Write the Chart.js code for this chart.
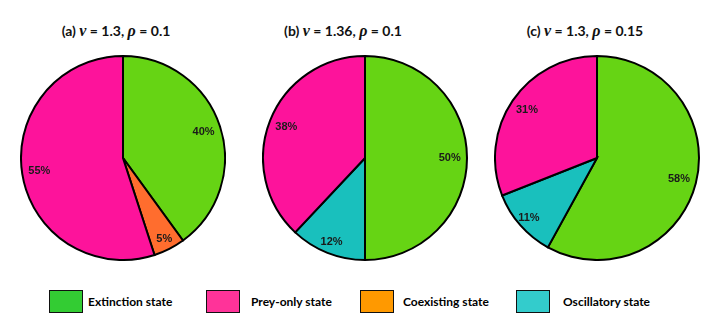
<!DOCTYPE html>
<html>
<head>
<meta charset="utf-8">
<script src="https://cdn.jsdelivr.net/npm/chart.js@4"></script>
<style>
  html, body { margin:0; padding:0; background:#fff; }
  #wrap { position:relative; width:716px; height:323px; overflow:hidden; background:#fff; }
  canvas.pie { position:absolute; }
  .ttl { position:absolute; top:20px; font-family:Lato, "Open Sans", sans-serif; font-weight:700; font-size:14px; color:#111; white-space:nowrap; transform:translateX(-50%); line-height:22px; }
  .ttl i { font-family:"Liberation Serif", "DejaVu Serif", serif; font-style:italic; font-weight:700; font-size:16px; }
  .leg { position:absolute; top:290px; height:23px; display:flex; align-items:center; }
  .leg .box { width:32px; height:21px; border:1.5px solid #111; box-sizing:content-box; }
  .leg .txt { font-family:Lato, "Open Sans", sans-serif; font-weight:700; font-size:12px; color:#000; white-space:nowrap; }
</style>
</head>
<body>
<div id="wrap"></div>
<script>
// ---- data ----
const categories = ['Extinction state', 'Coexisting state', 'Oscillatory state', 'Prey-only state'];
const panelLetters = ['(a)', '(b)', '(c)'];
const nuValues = ['1.3', '1.36', '1.3'];
const rhoValues = ['0.1', '0.1', '0.15'];
const valuesA = [40, 5, 0, 55];
const valuesB = [50, 0, 12, 38];
const valuesC = [58, 0, 11, 31];
const legendOrder = ['Extinction state', 'Prey-only state', 'Coexisting state', 'Oscillatory state'];

// ---- styles ----
const sliceColors = {
  'Extinction state': '#66d414',
  'Coexisting state': '#ff6d2e',
  'Oscillatory state': '#19c0bd',
  'Prey-only state': '#fd139b'
};
const legendColors = {
  'Extinction state': '#33cc33',
  'Prey-only state': '#ff3399',
  'Coexisting state': '#ff9900',
  'Oscillatory state': '#33cccc'
};
const panels = [
  { values: valuesA, cx: 123, cy: 158, titleX: 116 },
  { values: valuesB, cx: 365, cy: 158, titleX: 343 },
  { values: valuesC, cx: 597, cy: 158, titleX: 585 }
];
const legendPos = [49, 206, 360, 516];
const legendTextGap = [5, 11, 9, 13];
const SIZE = 206;

const wrap = document.getElementById('wrap');

const pctLabels = {
  id: 'pctLabels',
  afterDatasetsDraw(chart) {
    const ctx = chart.ctx;
    const meta = chart.getDatasetMeta(0);
    const data = chart.data.datasets[0].data;
    ctx.save();
    ctx.font = 'bold 11px "Liberation Sans", Arial, sans-serif';
    ctx.fillStyle = '#1a1a1a';
    ctx.textAlign = 'center';
    ctx.textBaseline = 'middle';
    meta.data.forEach((arc, i) => {
      const v = data[i];
      if (!v) return;
      const p = arc.getProps(['x', 'y', 'startAngle', 'endAngle', 'outerRadius'], true);
      const mid = (p.startAngle + p.endAngle) / 2;
      const f = v < 15 ? 0.89 : 0.83;
      const r = p.outerRadius * f;
      ctx.fillText(v + '%', p.x + Math.cos(mid) * r, p.y + Math.sin(mid) * r);
    });
    ctx.restore();
  }
};

panels.forEach((pn, k) => {
  const t = document.createElement('div');
  t.className = 'ttl';
  t.style.left = pn.titleX + 'px';
  t.innerHTML = panelLetters[k] + ' <i>v</i> = ' + nuValues[k] + ', <i>ρ</i> = ' + rhoValues[k];
  wrap.appendChild(t);

  const c = document.createElement('canvas');
  c.className = 'pie';
  c.width = SIZE; c.height = SIZE;
  c.style.width = SIZE + 'px'; c.style.height = SIZE + 'px';
  c.style.left = (pn.cx - SIZE / 2) + 'px';
  c.style.top = (pn.cy - SIZE / 2) + 'px';
  wrap.appendChild(c);

  new Chart(c.getContext('2d'), {
    type: 'pie',
    data: {
      labels: categories,
      datasets: [{
        data: pn.values,
        backgroundColor: categories.map(n => sliceColors[n]),
        borderColor: '#000',
        borderWidth: 2,
        borderJoinStyle: 'miter'
      }]
    },
    options: {
      responsive: false,
      animation: false,
      devicePixelRatio: 1,
      layout: { padding: 0 },
      plugins: { legend: { display: false }, tooltip: { enabled: false }, title: { display: false } }
    },
    plugins: [pctLabels]
  });
});

legendOrder.forEach((name, i) => {
  const d = document.createElement('div');
  d.className = 'leg';
  d.style.left = legendPos[i] + 'px';
  const b = document.createElement('div');
  b.className = 'box';
  b.style.background = legendColors[name];
  const s = document.createElement('span');
  s.className = 'txt';
  s.style.marginLeft = legendTextGap[i] + 'px';
  s.textContent = name;
  d.appendChild(b); d.appendChild(s);
  wrap.appendChild(d);
});
</script>
</body>
</html>
